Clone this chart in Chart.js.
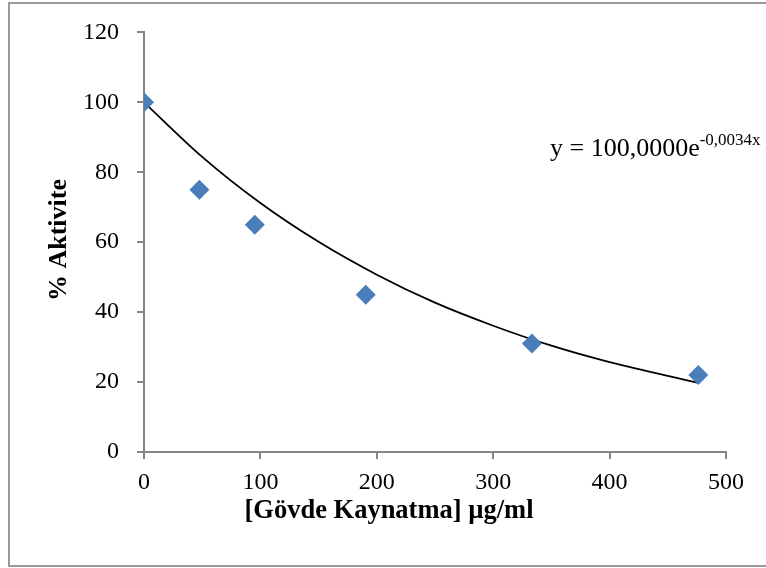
<!DOCTYPE html>
<html>
<head>
<meta charset="utf-8">
<script src="https://cdn.jsdelivr.net/npm/chart.js@4"></script>
<style>
  body { margin: 0; background: #fff; }
  #frame { position: absolute; left: 8px; top: 2px; width: 780px; height: 565px; border: 2px solid #9a9a9a; box-sizing: border-box; }
  #cv { position: absolute; left: 0; top: 0; }
</style>
</head>
<body>
<div id="frame"></div>
<canvas id="cv" width="766" height="568"></canvas>
<script>
// measured points
const doses = [0, 47.6, 95.2, 190.5, 333.3, 476.2];
const activity = [100, 75, 65, 45, 31, 22];

// trendline
const trendX = [0, 50, 100, 150, 200, 250, 300, 350, 400, 476.2];
const trendY = [100, 84.4, 71.2, 60.1, 50.7, 42.7, 36.1, 30.4, 25.7, 19.8];

const xTicks = [0, 100, 200, 300, 400, 500];
const yTicks = [0, 20, 40, 60, 80, 100, 120];

const serif = '"Liberation Serif", "Times New Roman", serif';
const axisGray = '#868686';

const labelsPlugin = {
    id: 'labels',
    afterDraw(chart) {
        const c = chart.ctx;
        c.save();
        c.fillStyle = '#000';
        c.font = 'bold 26.5px ' + serif;
        c.textAlign = 'center';
        c.textBaseline = 'middle';
        c.fillText('[Gövde Kaynatma] µg/ml', 389, 511);

        c.font = 'bold 26px ' + serif;
        c.translate(59, 240);
        c.rotate(-Math.PI / 2);
        c.fillText('% Aktivite', 0, 0);
        c.restore();

        c.save();
        c.fillStyle = '#000';
        c.textAlign = 'left';
        c.textBaseline = 'alphabetic';
        c.font = '26px ' + serif;
        const main = 'y = 100,0000e';
        c.fillText(main, 550, 156);
        const w = c.measureText(main).width;
        c.font = '17px ' + serif;
        c.fillText('-0,0034x', 550 + w, 145);
        c.restore();
    }
};

new Chart(document.getElementById('cv').getContext('2d'), {
    type: 'scatter',
    data: {
        datasets: [{
            label: 'Aktivite',
            data: doses.map((d, i) => ({x: d, y: activity[i]})),
            pointStyle: 'rectRot',
            pointRadius: 10,
            pointHoverRadius: 10,
            backgroundColor: '#4a7ebb',
            borderColor: '#4a7ebb',
            borderWidth: 0,
            order: 1
        }, {
            label: 'Trend',
            type: 'line',
            data: trendX.map((d, i) => ({x: d, y: trendY[i]})),
            borderColor: '#000',
            borderWidth: 1.8,
            pointRadius: 0,
            fill: false,
            cubicInterpolationMode: 'monotone',
            order: 2
        }]
    },
    options: {
        responsive: false,
        animation: false,
        layout: { padding: { top: 32, right: 40, left: 0, bottom: 0 } },
        plugins: {
            legend: { display: false },
            tooltip: { enabled: false }
        },
        scales: {
            x: {
                type: 'linear',
                min: 0,
                max: 500,
                afterBuildTicks: (s) => { s.ticks = xTicks.map(v => ({value: v})); },
                afterFit: (s) => { s.height = 116; },
                ticks: { color: '#000', font: { family: serif, size: 24 }, padding: 9 },
                grid: { drawOnChartArea: false, tickLength: 7, color: axisGray, lineWidth: 2 },
                border: { color: axisGray, width: 2 }
            },
            y: {
                min: 0,
                max: 120,
                afterBuildTicks: (s) => { s.ticks = yTicks.map(v => ({value: v})); },
                afterFit: (s) => { s.width = 144; },
                ticks: { color: '#000', font: { family: serif, size: 24 }, padding: 18 },
                grid: { drawOnChartArea: false, tickLength: 7, color: axisGray, lineWidth: 2 },
                border: { color: axisGray, width: 2 }
            }
        }
    },
    plugins: [labelsPlugin]
});
</script>
</body>
</html>
